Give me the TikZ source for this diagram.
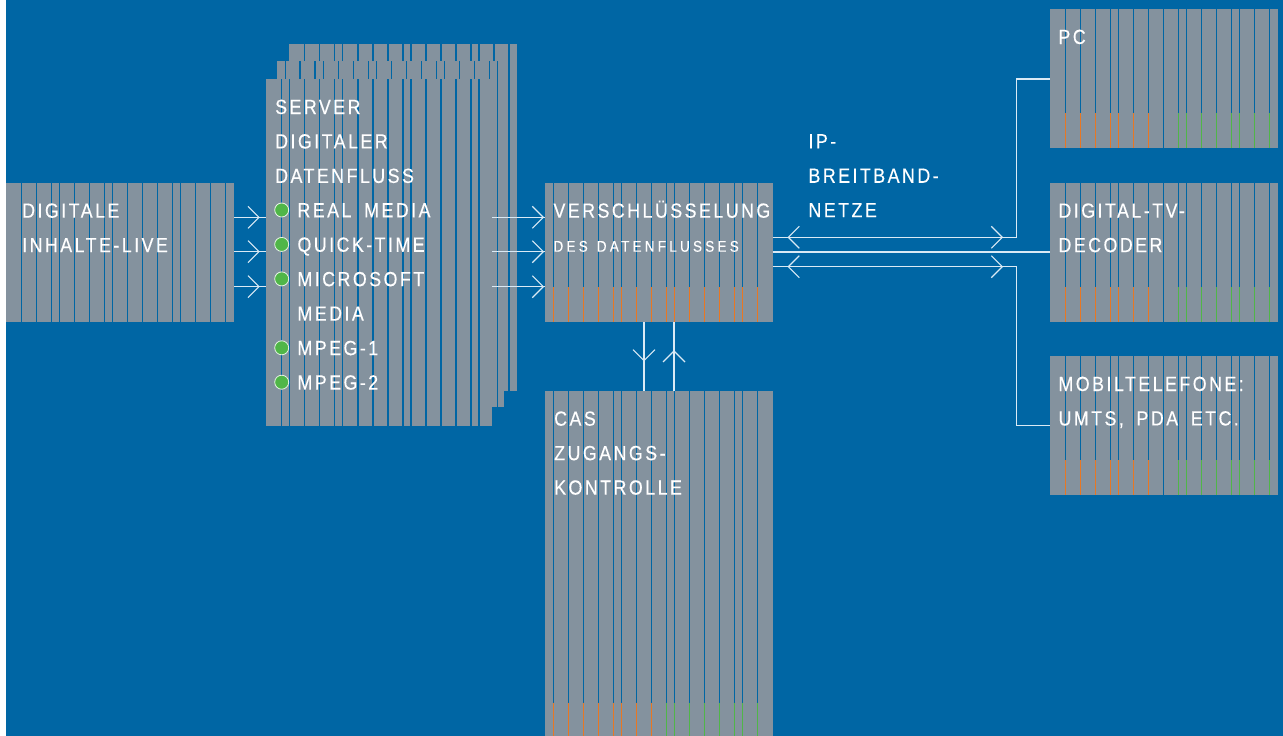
\documentclass[tikz,border=0pt]{standalone}
\usepackage{fontspec}
\newfontfamily\lab[LetterSpace=12,FakeStretch=0.87,FakeBold=0.35]{Liberation Sans}
\newfontfamily\slab[LetterSpace=21,FakeStretch=0.87,WordSpace=1.3,FakeBold=0.3]{Liberation Sans}
\definecolor{bgblue}{RGB}{0,102,164}
\definecolor{boxgray}{RGB}{132,146,158}
\definecolor{orng}{RGB}{232,119,34}
\definecolor{grn}{RGB}{80,182,72}
\definecolor{linec}{RGB}{218,234,245}
\newcommand\stripes[5]{%
  \foreach \o/\c in #5 {
    \draw[stripe] (#1+\o,#2) -- (#1+\o,#3);
    \draw[stripe,draw=\c] (#1+\o,#3) -- (#1+\o,#4);
  }}
\def\devlist{15.3/orng,30.3/orng,45.3/orng,60.3/orng,68.3/orng,83.3/orng,98.3/orng,113.3/bgblue,128.3/grn,136.3/grn,151.3/grn,166.3/grn,181.3/grn,189.3/grn,204.3/grn,219.3/grn}
\begin{document}
\begin{tikzpicture}[x=1pt,y=-1pt,
  box/.style={fill=boxgray,draw=none,inner sep=0pt,outer sep=0pt,anchor=north west},
  stripe/.style={draw=bgblue,line width=1.1pt},
  conn/.style={draw=linec,line width=1.1pt},
  lbl/.style={font=\lab\fontsize{20.5}{34.45}\selectfont,text=white,inner sep=0pt,anchor=base west,align=left,text width=320pt,
    execute at begin node={\spaceskip=0.62em\relax}},
  slbl/.style={font=\slab\fontsize{15.5}{20}\selectfont,text=white,inner sep=0pt,anchor=base west},
  bullet/.style={circle,fill=grn,draw=white!85!grn,line width=0.8pt,minimum size=14pt,inner sep=0pt},
  chev/.pic={\draw[conn] (-11,-11) -- (0,0) -- (-11,11);}
]
\useasboundingbox (0,0) rectangle (1283,736);
\fill[white] (0,0) rectangle (1283,736);
\fill[bgblue] (6,0) rectangle (1283,736);

% input box
\node[box,minimum width=228pt,minimum height=139pt] (in) at (6,183) {};
\stripes{6}{183}{322}{322}{{15.3/bgblue,30.7/bgblue,45.7/bgblue,53.7/bgblue,68.7/bgblue,83.7/bgblue,98.7/bgblue,106.7/bgblue,121.7/bgblue,136.7/bgblue,151.7/bgblue,166.7/bgblue,174.7/bgblue,189.7/bgblue,204.7/bgblue,219.7/bgblue}}

% server stack
\node[box,minimum width=227.7pt,minimum height=346.7pt] (srvB) at (289,44) {};
\stripes{289}{44}{390.7}{390.7}{{15.3/bgblue,30.7/bgblue,45.7/bgblue,53.7/bgblue,69/bgblue,84/bgblue,99/bgblue,114/bgblue,122/bgblue,137/bgblue,152/bgblue,167/bgblue,182/bgblue,190/bgblue,205/bgblue,220/bgblue}}
\node[box,minimum width=227pt,minimum height=346.3pt] (srvM) at (277,61) {};
\stripes{277}{61}{407.3}{407.3}{{8.7/bgblue,23/bgblue,38/bgblue,46.3/bgblue,61.3/bgblue,76.3/bgblue,91.3/bgblue,99.7/bgblue,114.7/bgblue,129.7/bgblue,144.7/bgblue,159.7/bgblue,167.3/bgblue,182.3/bgblue,197.3/bgblue,212.3/bgblue,220.3/bgblue}}
\node[box,minimum width=226.3pt,minimum height=346.7pt] (srv) at (266,79) {};
\stripes{266}{79}{425.7}{425.7}{{15.3/bgblue,23.7/bgblue,38.3/bgblue,53.7/bgblue,68.7/bgblue,76.7/bgblue,92/bgblue,107/bgblue,122/bgblue,137/bgblue,145/bgblue,160/bgblue,175/bgblue,190/bgblue,205/bgblue,213/bgblue}}

% encryption box
\node[box,minimum width=227.7pt,minimum height=138.7pt] (enc) at (545,183) {};
\stripes{545}{183}{287.3}{321.7}{{8.3/orng,23.3/orng,38.3/orng,53.3/orng,68.3/orng,76.3/orng,91.3/orng,106.3/orng,121.3/orng,129.3/orng,144.3/orng,159.3/orng,174.3/orng,189.3/orng,197.3/orng,212.3/orng}}

% CAS box
\node[box,minimum width=227.7pt,minimum height=345pt] (cas) at (545,391) {};
\stripes{545}{391}{702.7}{736}{{8.3/orng,23.3/orng,38.3/orng,53.3/orng,68.3/orng,76.3/orng,91.3/orng,106.3/orng,121.3/grn,129.3/grn,144.3/grn,159.3/grn,174.3/grn,189.3/grn,197.3/grn,212.3/grn}}

% devices
\node[box,minimum width=227.7pt,minimum height=138.7pt] (pc) at (1050,9) {};
\stripes{1050}{9}{113}{147.7}{\devlist}
\node[box,minimum width=227.7pt,minimum height=138.7pt] (tv) at (1050,183) {};
\stripes{1050}{183}{287.3}{321.7}{\devlist}
\node[box,minimum width=227.7pt,minimum height=139.3pt] (mob) at (1050,355.7) {};
\stripes{1050}{355.7}{460}{495}{\devlist}

% connectors: input -> server
\foreach \yy in {217.3,251.7,286.7} {
  \draw[conn] (in.east |- 0,\yy) -- (srv.west |- 0,\yy);
  \pic at (259,\yy) {chev};
}
% server -> encryption
\foreach \yy in {217.3,251.7,286.7} {
  \draw[conn] (srv.east |- 0,\yy) -- (enc.west |- 0,\yy);
  \pic at (543.3,\yy) {chev};
}
% encryption <-> devices
\draw[conn] (enc.east |- 0,237.3) -| (1016.7,79) -- (pc.west |- 0,79);
\pic[rotate=180] at (788.3,237.3) {chev};
\pic at (1002.3,237.3) {chev};
\draw[conn] (enc.east |- 0,252) -- (tv.west |- 0,252);
\draw[conn] (enc.east |- 0,266.7) -| (1016.7,425.3) -- (mob.west |- 0,425.3);
\pic[rotate=180] at (788.3,266.7) {chev};
\pic at (1002.3,266.7) {chev};
% encryption <-> CAS
\draw[conn] (enc.south -| 644,0) -- (cas.north -| 644,0);
\pic[rotate=-90] at (644,360.7) {chev};
\draw[conn] (cas.north -| 674,0) -- (enc.south -| 674,0);
\pic[rotate=90] at (674,351) {chev};

% texts
\node[lbl] (tin) at (22,217.7) {DIGITALE\\INHALTE-LIVE};
\node[lbl] (tsrv) at (275,114) {SERVER\\DIGITALER\\DATENFLUSS};
\node[lbl] (tlist) at (297.3,217.3) {REAL MEDIA\\QUICK-TIME\\MICROSOFT\\MEDIA\\MPEG-1\\MPEG-2};
\node[bullet] (b1) at (281.7,210) {};
\node[bullet] (b2) at (281.7,244.4) {};
\node[bullet] (b3) at (281.7,278.9) {};
\node[bullet] (b4) at (281.7,347.8) {};
\node[bullet] (b5) at (281.7,382.2) {};
\node[lbl] (tenc) at (553.3,217.7) {VERSCHLÜSSELUNG};
\node[slbl] (tenc2) at (553.3,251.7) {DES DATENFLUSSES};
\node[lbl] (tip) at (808.3,148.3) {IP-\\BREITBAND-\\NETZE};
\node[lbl] (tpc) at (1058.3,44) {PC};
\node[lbl] (ttv) at (1058.3,217.7) {DIGITAL-TV-\\DECODER};
\node[lbl] (tmob) at (1058.3,391) {MOBILTELEFONE:\\UMTS, PDA ETC.};
\node[lbl] (tcas) at (554,425.7) {CAS\\ZUGANGS-\\KONTROLLE};
\end{tikzpicture}
\end{document}
